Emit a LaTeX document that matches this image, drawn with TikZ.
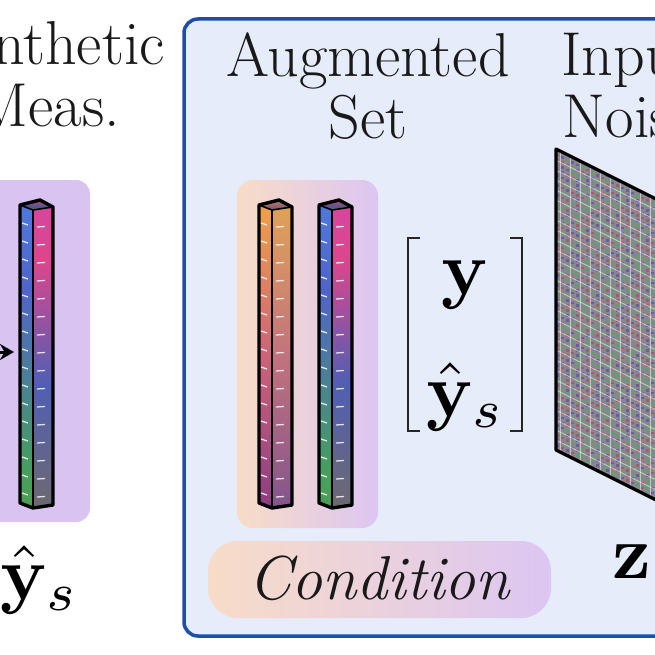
\documentclass[tikz,border=0pt]{standalone}
\usepackage{amsmath}
\usepackage{graphicx}
\usetikzlibrary{arrows.meta}
\definecolor{panelfill}{HTML}{E6ECFA}
\definecolor{panelline}{HTML}{1D4FA5}
\definecolor{gorange}{HTML}{F8DCC8}
\definecolor{gpurple}{HTML}{DCC6F2}
\definecolor{lpurple}{HTML}{D8C3F1}
\definecolor{noisebase}{HTML}{87878C}
\pgfdeclareverticalshading{oL}{100bp}{color(0bp)=(rgb,255:red,70;green,60;blue,150);color(25bp)=(rgb,255:red,140;green,60;blue,130);color(50bp)=(rgb,255:red,205;green,100;blue,120);color(75bp)=(rgb,255:red,240;green,165;blue,70);color(100bp)=(rgb,255:red,240;green,150;blue,70)}
\pgfdeclareverticalshading{oR}{100bp}{color(0bp)=(rgb,255:red,75;green,70;blue,150);color(25bp)=(rgb,255:red,130;green,85;blue,140);color(50bp)=(rgb,255:red,195;green,115;blue,125);color(75bp)=(rgb,255:red,225;green,165;blue,85);color(100bp)=(rgb,255:red,230;green,150;blue,80)}
\pgfdeclareverticalshading{tL}{100bp}{color(0bp)=(rgb,255:red,120;green,130;blue,60);color(30bp)=(rgb,255:red,70;green,160;blue,90);color(60bp)=(rgb,255:red,80;green,100;blue,200);color(80bp)=(rgb,255:red,80;green,130;blue,230);color(100bp)=(rgb,255:red,60;green,200;blue,190)}
\pgfdeclareverticalshading{tR}{100bp}{color(0bp)=(rgb,255:red,130;green,100;blue,70);color(25bp)=(rgb,255:red,110;green,105;blue,110);color(45bp)=(rgb,255:red,80;green,95;blue,180);color(65bp)=(rgb,255:red,220;green,70;blue,140);color(100bp)=(rgb,255:red,200;green,70;blue,210)}
\tikzset{
  outl/.style={line width=3.4pt,line join=round,draw=black},
  titletext/.style={font=\fontsize{62}{68}\selectfont,align=center,text=black!90},
  dashw/.style={white,opacity=.8,line width=1.3pt},
  bigmath/.style={inner sep=0pt}
}
\newcommand\drawbar[3]{%
\begin{scope}[shift={(#1,197)}]
 \begin{scope}\clip (0,8)--(13,13)--(13,311)--(0,306)--cycle;\shade[shading=#2] (0,0) rectangle (13,312);\end{scope}
 \begin{scope}\clip (13,13)--(33,10)--(33,308)--(13,311)--cycle;\shade[shading=#3] (13,0) rectangle (33,312);\end{scope}
 \fill[shading=#3,opacity=.6] (0,8)--(20,3)--(33,10)--(13,13)--cycle;
 \foreach \k in {1,...,16}{
   \draw[dashw] (2,{8+\k*18}) -- (8,{10+\k*18});
   \draw[dashw] (17,{12+\k*18}) -- (25,{11.5+\k*18});
 }
 \draw[outl] (0,8)--(20,3)--(33,10)--(33,308)--(13,311)--(0,306)--cycle;
 \draw[outl,line width=1.6pt] (0,8)--(13,13)--(33,10) (13,13)--(13,311);
\end{scope}}
\begin{document}
\begin{tikzpicture}[x=1pt,y=-1pt]
\useasboundingbox (0,0) rectangle (655,655);
\clip (0,0) rectangle (655,655);
\fill[white] (0,0) rectangle (655,655);
% left part
\node[titletext] (syn) at (48,74) {Synthetic\\[-6pt]Meas.};
\fill[lpurple,rounded corners=14pt] (-30,180) rectangle (90,522);
\drawbar{20}{tL}{tR}
\coordinate (arrs) at (-20,352);
\coordinate (arre) at (14,352);
\draw[line width=3pt,-{Stealth[length=14pt,width=16pt]}] (arrs) -- (arre);
\node[bigmath] (ys) at (40,580) {\scalebox{7.6}{$\hat{\mathbf{y}}_s$}};
% panel
\draw[panelline,fill=panelfill,line width=3.5pt,rounded corners=14pt] (184,19) rectangle (700,636);
\node[titletext] (aug) at (368,86) {Augmented\\[-6pt]Set};
\node[titletext] (inp) at (630,86) {Input\\[-6pt]Noise};
\shade[left color=gorange,right color=gpurple,rounded corners=16pt] (237,180) rectangle (378,528);
\drawbar{259}{oL}{oR}
\drawbar{319}{tL}{tR}
% bracket vector
\draw[line width=2.2pt,black!85] (420,238)--(408,238)--(408,431)--(420,431);
\draw[line width=2.2pt,black!85] (510,238)--(522,238)--(522,431)--(510,431);
\node[bigmath] (vy) at (465,285) {\scalebox{7.6}{$\mathbf{y}$}};
\node[bigmath] (vys) at (466,397) {\scalebox{7.6}{$\hat{\mathbf{y}}_s$}};
% condition pill
\shade[left color=gorange,right color=gpurple,rounded corners=30pt] (208,541) rectangle (551,618);
\node[font=\fontsize{62}{66}\selectfont\itshape,text=black!90] (cond) at (379,578) {Condition};
% noise plane
\begin{scope}
\clip (556,149)--(700,221)--(700,522)--(556,450)--cycle;
\fill[noisebase] (550,140) rectangle (700,530);
\pgfmathsetseed{7}
\foreach \i in {0,...,29}{\foreach \j in {0,...,79}{
  \pgfmathsetmacro\hue{rnd}
  \ifdim\hue pt<0.33pt \def\cc{red!70!violet}\else\ifdim\hue pt<0.66pt \def\cc{green!70!teal}\else\def\cc{blue!70!violet}\fi\fi
  \fill[\cc,opacity=.3] ({556+\i*5},{149+\i*2.5+\j*5}) rectangle +(2.5,2.5);
}}
\foreach \i in {0,...,15}{\draw[white,opacity=.5,line width=1pt] ({560+\i*10},100) -- +(0,500);}
\foreach \j in {-10,...,40}{\draw[white,opacity=.5,line width=1pt] (556,{140+\j*10}) -- +(150,75);}
\end{scope}
\draw[line width=3.2pt,line join=round] (700,221)--(556,149)--(556,450)--(700,522);
\node[bigmath] (z) at (632,562) {\scalebox{7.6}{$\mathbf{z}$}};
\end{tikzpicture}
\end{document}
